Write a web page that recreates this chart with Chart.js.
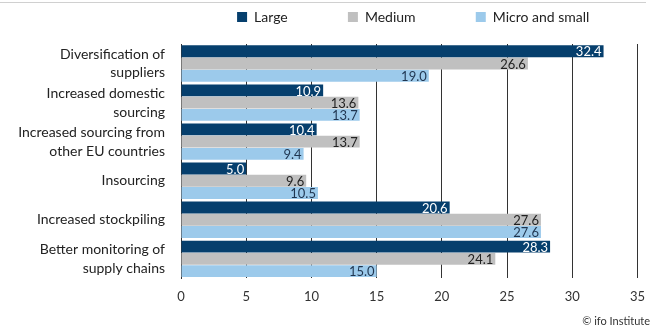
<!DOCTYPE html>
<html>
<head>
<meta charset="utf-8">
<script src="https://cdn.jsdelivr.net/npm/chart.js@4.4.0/dist/chart.umd.min.js"></script>
<style>
  html, body { margin: 0; padding: 0; background: #fff; }
  #wrap { position: relative; width: 656px; height: 331px; }
  #topline { position: absolute; left: 0; top: 2px; width: 646px; height: 1px; background: #d0d0d0; }
  #credit { position: absolute; right: 6px; top: 314px; font: 11px Lato, sans-serif; color: #333; }
</style>
</head>
<body>
<div id="wrap">
  <div id="topline"></div>
  <canvas id="chart" width="656" height="331"></canvas>
  <div id="credit">© ifo Institute</div>
</div>
<script>
const categories = [
    ['Diversification of', 'suppliers'],
    ['Increased domestic', 'sourcing'],
    ['Increased sourcing from', 'other EU countries'],
    'Insourcing',
    'Increased stockpiling',
    ['Better monitoring of', 'supply chains']
];
const seriesNames = ['Large', 'Medium', 'Micro and small'];
const largeValues = [32.4, 10.9, 10.4, 5.0, 20.6, 28.3];
const mediumValues = [26.6, 13.6, 13.7, 9.6, 27.6, 24.1];
const microValues = [19.0, 13.7, 9.4, 10.5, 27.6, 15.0];
const xTicks = [0, 5, 10, 15, 20, 25, 30, 35];

const colors = ['#063f6d', '#c0c0c0', '#9ccaeb'];
const labelColors = ['#ffffff', '#222222', '#1f3550'];

// values written inside the end of each bar
const barLabels = {
    id: 'barLabels',
    afterDatasetsDraw(chart) {
        const ctx = chart.ctx;
        ctx.save();
        ctx.font = '13px Lato, sans-serif';
        ctx.textAlign = 'right';
        ctx.textBaseline = 'middle';
        chart.data.datasets.forEach((ds, i) => {
            const meta = chart.getDatasetMeta(i);
            meta.data.forEach((bar, j) => {
                ctx.fillStyle = labelColors[i];
                ctx.fillText(ds.data[j].toFixed(1), bar.x - 2, bar.y + 1);
            });
        });
        ctx.restore();
    }
};

// extra room under the legend, and legend centred over the plot
const legendTweak = {
    id: 'legendTweak',
    beforeInit(chart) {
        const l = chart.legend;
        if (!l) return;
        const fit = l.fit.bind(l);
        l.fit = function() { fit(); this.height += 10; };
    },
    afterLayout(chart) {
        const l = chart.legend;
        const mid = (chart.chartArea.left + chart.chartArea.right) / 2;
        const shift = mid - (l.left + l.right) / 2 + 4;
        l.left += shift;
        l.right += shift;
    }
};

new Chart(document.getElementById('chart'), {
    type: 'bar',
    data: {
        labels: categories,
        datasets: [
            { label: seriesNames[0], data: largeValues, backgroundColor: colors[0] },
            { label: seriesNames[1], data: mediumValues, backgroundColor: colors[1] },
            { label: seriesNames[2], data: microValues, backgroundColor: colors[2] }
        ]
    },
    options: {
        indexAxis: 'y',
        responsive: false,
        animation: false,
        layout: { padding: { left: 4, right: 14, top: 0, bottom: 15 } },
        datasets: { bar: { categoryPercentage: 0.94, barPercentage: 0.97 } },
        scales: {
            x: {
                min: 0,
                max: 35,
                afterBuildTicks(axis) { axis.ticks = xTicks.map(v => ({ value: v })); },
                grid: { color: '#333333', lineWidth: 1, drawTicks: false },
                border: { display: false },
                ticks: { padding: 11, color: '#333', font: { family: 'Lato', size: 13 } }
            },
            y: {
                grid: { display: false },
                border: { display: true, color: '#333333' },
                afterFit(axis) { axis.width = 177; },
                ticks: { autoSkip: false, padding: 8, color: '#222', font: { family: 'Lato', size: 14, lineHeight: 1.35 } }
            }
        },
        plugins: {
            legend: {
                position: 'top',
                labels: {
                    boxWidth: 10,
                    boxHeight: 10,
                    padding: 10,
                    color: '#222',
                    font: { family: 'Lato', size: 14 },
                    generateLabels(chart) {
                        const items = Chart.defaults.plugins.legend.labels.generateLabels(chart);
                        items.forEach((it, i) => {
                            if (i < items.length - 1) it.text += ' '.repeat(14);
                        });
                        return items;
                    }
                }
            },
            tooltip: { enabled: false }
        }
    },
    plugins: [barLabels, legendTweak]
});
</script>
</body>
</html>
